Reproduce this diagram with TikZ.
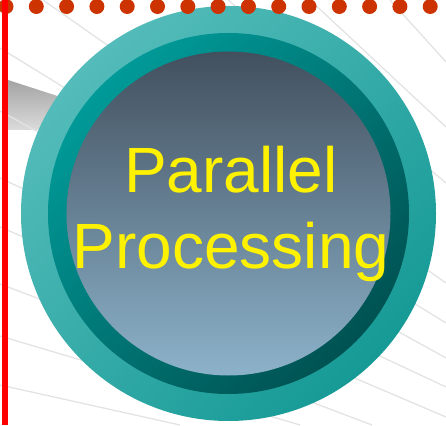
\documentclass[tikz,border=0pt]{standalone}
\usepackage{fontspec}
\setmainfont{Liberation Sans}
\usepackage{xcolor}
\usepackage{tikz}
\usetikzlibrary{positioning}

\definecolor{dotred}{RGB}{204,51,0}
\definecolor{ringlight}{RGB}{84,188,186}
\definecolor{ringdark}{RGB}{22,154,150}
\definecolor{bandlight}{RGB}{0,154,152}
\definecolor{banddark}{RGB}{0,82,82}
\definecolor{disctop}{RGB}{66,80,94}
\definecolor{discbottom}{RGB}{140,178,202}

\begin{document}
\begin{tikzpicture}[x=1pt, y=1pt,
  ray/.style={line width=1.3pt, black!11},
  bead/.style={fill=dotred},
  title/.style={text=yellow, font=\fontsize{64}{76}\selectfont, anchor=base, inner sep=0pt},
  wedge/.style={top color=black!36, bottom color=black!14}
]
  \useasboundingbox (0,0) rectangle (446,425);
  \clip (0,0) rectangle (446,425);

  % Grey beam on the left
  \shade[wedge] (8,345) -- (110,312) -- (110,295) -- (8,295) -- cycle;

  % Background rays
  \foreach \xa/\ya/\xb/\yb in {43/425/446/142, 0/377/446/102, 0/314/446/67,
      0/247/446/38, 0/198/446/8, 0/141/372/0, 0/89/300/0, 0/40/180/0,
      310/425/446/298, 390/425/446/363, 228/425/446/242} {
    \draw[ray] (\xa,\ya) -- (\xb,\yb);
  }

  % Disc
  \coordinate (c) at (228.5,211.5);
  \shade[top color=ringlight, bottom color=ringdark, shading angle=45]
    (c) circle[radius=207.5pt];
  \shade[top color=bandlight, bottom color=banddark, shading angle=45]
    (c) circle[radius=180.5pt];
  \shade[top color=disctop, bottom color=discbottom]
    (c) circle[radius=162pt];

  % Caption
  \node[title] (upper) at (231,232.3) {Parallel};
  \node[title] (lower) at (231,156.7) {Processing};

  % Dotted rule along the top
  \foreach \i in {0,...,14} {
    \fill[bead] (6+30.3*\i,418.5) circle[radius=7.5pt];
  }

  % Red rule on the left
  \fill[red] (2,0) rectangle (8,425);
\end{tikzpicture}
\end{document}
